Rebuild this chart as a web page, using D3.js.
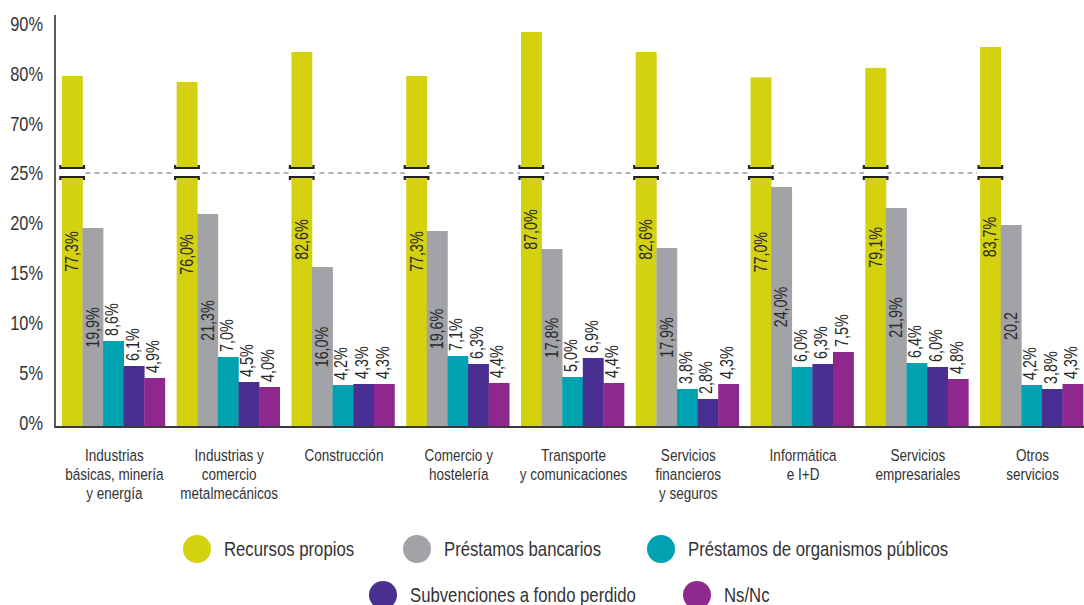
<!DOCTYPE html>
<html>
<head>
<meta charset="utf-8">
<script src="https://cdn.jsdelivr.net/npm/d3@7"></script>
<style>
  html, body { margin: 0; padding: 0; background: #fff; }
  svg { display: block; font-family: "Liberation Sans", Arial, sans-serif; }
</style>
</head>
<body>
<svg id="chart" width="1084" height="605"></svg>
<script>
// ---------- DATA ----------
const categories = [
  "Industrias\nbásicas, minería\ny energía",
  "Industrias y\ncomercio\nmetalmecánicos",
  "Construcción",
  "Comercio y\nhostelería",
  "Transporte\ny comunicaciones",
  "Servicios\nfinancieros\ny seguros",
  "Informática\ne I+D",
  "Servicios\nempresariales",
  "Otros\nservicios"
];
const seriesNames = [
  "Recursos propios",
  "Préstamos bancarios",
  "Préstamos de organismos públicos",
  "Subvenciones a fondo perdido",
  "Ns/Nc"
];
const recursosPropios     = [77.3, 76.0, 82.6, 77.3, 87.0, 82.6, 77.0, 79.1, 83.7];
const prestamosBancarios  = [19.9, 21.3, 16.0, 19.6, 17.8, 17.9, 24.0, 21.9, 20.2];
const prestamosOrganismos = [8.6, 7.0, 4.2, 7.1, 5.0, 3.8, 6.0, 6.4, 4.2];
const subvenciones        = [6.1, 4.5, 4.3, 6.3, 6.9, 2.8, 6.3, 6.0, 3.8];
const nsnc                = [4.9, 4.0, 4.3, 4.4, 4.4, 4.3, 7.5, 4.8, 4.3];
const lowerTicks = [0, 5, 10, 15, 20, 25];
const upperTicks = [70, 80, 90];
// label printed without "%" in the source (series index, category index)
const labelsWithoutPercent = [[1, 8]];

const colors = ["#d4d10f", "#a2a3a7", "#00a1b1", "#482f91", "#8e278e"];
const seriesValues = [recursosPropios, prestamosBancarios, prestamosOrganismos, subvenciones, nsnc];

// ---------- LAYOUT ----------
const NARROW = "scale(0.82,1)";
const svg = d3.select("#chart");
const axisX = 55, baseY = 427, breakY = 173;

const x0 = d3.scaleBand().domain(categories).range([56, 1089]).paddingInner(0.1024).paddingOuter(0.0512);
const x1 = d3.scaleBand().domain(d3.range(seriesNames.length)).range([0, x0.bandwidth()]);

// lower segment of the broken axis (0–25 %)
const yLow = d3.scaleLinear().domain([0, 25]).range([baseY, baseY - 250]);
// upper segment of the broken axis (60–90 %)
const yHigh = d3.scaleLinear().domain([60, 90]).range([baseY - 249, baseY - 399]);
// scale used for the (broken) "Recursos propios" bars
const yMain = d3.scaleLinear().domain([0, 100]).range([baseY, baseY - 454]);

const fmt = (v, s, c) => {
  const t = d3.format(".1f")(v).replace(".", ",");
  return labelsWithoutPercent.some(p => p[0] === s && p[1] === c) ? t : t + "%";
};

// tick labels
const tickG = svg.append("g").attr("transform", `translate(${axisX},0)`);
const axLow = d3.axisLeft(yLow).tickValues(lowerTicks).tickSize(0).tickPadding(12).tickFormat(d => d + "%");
const axHigh = d3.axisLeft(yHigh).tickValues(upperTicks).tickSize(0).tickPadding(12).tickFormat(d => d + "%");
[axLow, axHigh].forEach(ax => {
  const g = tickG.append("g").call(ax);
  g.select(".domain").remove();
  g.selectAll("text").attr("font-size", 20).attr("fill", "#333")
    .attr("x", 0).attr("dy", null).attr("dominant-baseline", "central")
    .attr("transform", `translate(-12,-5) ${NARROW}`).style("font-family", "inherit");
});

// dashed break line
const firstX = x0(categories[0]) + x1(0) + x1.bandwidth() + 3;
const lastX = x0(categories[categories.length - 1]) + x1(0) - 3;
svg.append("line").attr("x1", firstX).attr("x2", lastX).attr("y1", breakY).attr("y2", breakY)
  .attr("stroke", "#9a9a9a").attr("stroke-width", 1.5).attr("stroke-dasharray", "5,4");

// bars
const groups = svg.append("g").selectAll("g").data(categories).join("g")
  .attr("transform", d => `translate(${x0(d)},0)`);

groups.each(function(cat, ci) {
  const g = d3.select(this);
  seriesValues.forEach((vals, si) => {
    const v = vals[ci];
    const sc = si === 0 ? yMain : yLow;
    g.append("rect").attr("x", x1(si)).attr("width", x1.bandwidth() + 0.3)
      .attr("y", sc(v)).attr("height", baseY - sc(v)).attr("fill", colors[si]);
  });
  // break marker on the first bar
  const bx0 = x1(0) - 1.5, bx1 = x1(0) + x1.bandwidth() + 1.5;
  g.append("rect").attr("x", bx0).attr("width", bx1 - bx0).attr("y", breakY - 5).attr("height", 9).attr("fill", "#fff");
  g.append("path").attr("d", `M${bx0},${breakY - 8} L${bx0},${breakY - 5} L${bx1},${breakY - 5} L${bx1},${breakY - 8}`)
    .attr("fill", "none").attr("stroke", "#222").attr("stroke-width", 2.2);
  g.append("path").attr("d", `M${bx0},${breakY + 7} L${bx0},${breakY + 4} L${bx1},${breakY + 4} L${bx1},${breakY + 7}`)
    .attr("fill", "none").attr("stroke", "#222").attr("stroke-width", 2.2);

  // value labels
  seriesValues.forEach((vals, si) => {
    const v = vals[ci];
    const sc = si === 0 ? yMain : yLow;
    const cx = x1(si) + x1.bandwidth() / 2;
    const t = g.append("text").text(fmt(v, si, ci))
      .attr("font-size", 17.5).attr("fill", "#2a2a2a").attr("dominant-baseline", "central");
    if (si <= 1) {
      const cy = (sc(v) + baseY) / 2;
      t.attr("text-anchor", "middle").attr("transform", `translate(${cx},${cy}) rotate(-90) ${NARROW}`);
    } else {
      const ty = sc(v) - 5;
      t.attr("text-anchor", "start").attr("transform", `translate(${cx - 1.5},${ty}) rotate(-90) ${NARROW}`);
    }
  });
});

// axes lines
svg.append("line").attr("x1", axisX).attr("x2", axisX).attr("y1", 15).attr("y2", baseY + 1)
  .attr("stroke", "#333").attr("stroke-width", 1.6);
svg.append("line").attr("x1", axisX).attr("x2", 1084).attr("y1", baseY).attr("y2", baseY)
  .attr("stroke", "#3a3a3a").attr("stroke-width", 2);

// category labels
const catG = svg.append("g");
categories.forEach(c => {
  const t = catG.append("text").attr("text-anchor", "middle").attr("font-size", 16.5).attr("fill", "#333")
    .attr("transform", `translate(${x0(c) + x0.bandwidth() / 2 + 1},461) ${NARROW}`);
  c.split("\n").forEach((l, i) => t.append("tspan").attr("x", 0).attr("dy", i === 0 ? 0 : 19).text(l));
});

// legend
const legendPos = [[197, 549], [417, 549], [661, 549], [383, 595], [697, 595]];
const leg = svg.append("g").selectAll("g").data(seriesNames).join("g")
  .attr("transform", (d, i) => `translate(${legendPos[i][0]},${legendPos[i][1]})`);
leg.append("circle").attr("r", 14).attr("fill", (d, i) => colors[i]);
leg.append("text").attr("dominant-baseline", "central").attr("font-size", 20.4)
  .attr("transform", `translate(27,0) ${NARROW}`)
  .attr("fill", "#333").text(d => d);
</script>
</body>
</html>
